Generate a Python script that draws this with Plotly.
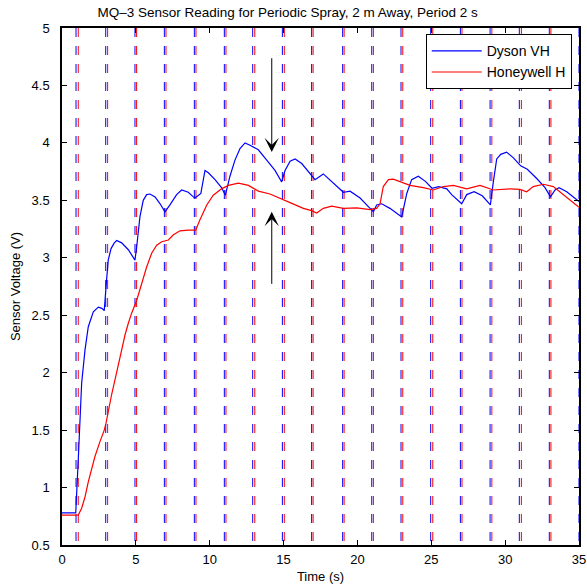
import plotly.graph_objects as go

# Dyson VH (blue) sensor trace
dyson_t = [0, 0.93, 1.1, 1.33, 1.56, 1.78, 2.12, 2.46, 2.7, 2.86, 3.02, 3.13, 3.32, 3.54, 3.7,
           4.04, 4.49, 4.94, 5.06, 5.28, 5.5, 5.73, 5.96, 6.3, 6.64, 6.97, 7.31, 7.76, 8.1, 8.55,
           8.89, 9.0, 9.4, 9.68, 9.91, 10.36, 10.8, 11.06, 11.37, 11.71, 12.05, 12.39, 12.73,
           13.29, 13.86, 14.42, 14.87, 15.1, 15.44, 15.78, 16.23, 16.79, 17.13, 17.69, 18.37,
           19.05, 19.5, 20.18, 21.08, 21.3, 21.64, 22.2, 23.0, 23.34, 23.67, 24.12, 24.6, 25.05,
           25.5, 26.05, 26.38, 27.06, 27.4, 27.9, 28.45, 29.0, 29.2, 29.43, 29.7, 30.1, 30.56,
           31.05, 31.5, 32.14, 32.7, 33.07, 33.38, 33.65, 34.17, 34.62, 35.0]
dyson_v = [0.78, 0.78, 1.24, 1.91, 2.2, 2.4, 2.53, 2.57, 2.56, 2.54, 2.81, 2.98, 3.08, 3.13, 3.15,
           3.13, 3.07, 2.98, 3.1, 3.36, 3.5, 3.55, 3.555, 3.53, 3.47, 3.40, 3.46, 3.55, 3.59, 3.57,
           3.53, 3.52, 3.56, 3.76, 3.74, 3.68, 3.61, 3.545, 3.71, 3.85, 3.95, 4.0, 3.98,
           3.94, 3.85, 3.76, 3.66, 3.76, 3.84, 3.86, 3.82, 3.73, 3.68, 3.73, 3.65,
           3.57, 3.58, 3.52, 3.40, 3.46, 3.47, 3.43, 3.355, 3.56, 3.68, 3.71, 3.665, 3.605,
           3.62, 3.6, 3.55, 3.47, 3.55, 3.575, 3.54, 3.46, 3.66, 3.86, 3.90, 3.92, 3.87,
           3.80, 3.77, 3.69, 3.61, 3.53, 3.59, 3.61, 3.575, 3.525, 3.49]

# Honeywell H (red) sensor trace
honey_t = [0, 1.1, 1.33, 1.56, 1.78, 2.01, 2.23, 2.57, 2.86, 2.98, 3.14, 3.36, 3.59, 3.81, 4.04,
           4.27, 4.49, 4.72, 5.06, 5.4, 5.73, 6.07, 6.41, 6.75, 7.2, 7.54, 7.99, 8.55, 9.05, 9.34,
           9.8, 10.24, 10.8, 11.26, 11.94, 12.62, 13.07, 13.29, 14.08, 14.76, 15.44, 16.34, 16.9,
           17.24, 17.69, 18.26, 19.05, 19.95, 20.85, 21.3, 21.53, 21.75, 22.1, 22.43, 23.0, 23.56,
           24.46, 25.14, 25.82, 26.5, 27.4, 28.3, 29.2, 30.33, 31.0, 31.46, 31.9, 32.59, 33.26,
           34.17, 34.6, 35.0]
honey_v = [0.76, 0.76, 0.82, 0.92, 1.05, 1.17, 1.27, 1.40, 1.50, 1.56, 1.67, 1.81, 1.94, 2.07, 2.20,
           2.33, 2.43, 2.52, 2.63, 2.78, 2.92, 3.04, 3.11, 3.14, 3.155, 3.2, 3.235, 3.24, 3.24, 3.33,
           3.46, 3.545, 3.6, 3.63, 3.65, 3.63, 3.60, 3.58, 3.555, 3.52, 3.48, 3.43, 3.41,
           3.39, 3.43, 3.45, 3.43, 3.435, 3.42, 3.43, 3.47, 3.62, 3.68, 3.685, 3.66, 3.63,
           3.61, 3.59, 3.62, 3.63, 3.60, 3.63, 3.59, 3.60, 3.595, 3.575, 3.62, 3.64, 3.62,
           3.53, 3.48, 3.44]

# spray event markers (dashed vertical lines)
dyson_spray = [0.95, 2.96, 4.94, 6.93, 8.96, 10.99, 12.91, 14.92, 16.9, 19.0, 20.97, 22.95,
               24.96, 26.97, 28.98, 30.96, 32.99, 35.0]
honey_spray = [1.1, 3.09, 5.05, 7.04, 9.07, 11.1, 13.05, 15.05, 17.0, 19.1, 21.08, 23.07,
               25.1, 27.08, 29.1, 31.1, 33.1]

y_lo, y_hi = 0.5, 5.0


def spray_xy(times):
    xs, ys = [], []
    for t in times:
        xs += [t, t, None]
        ys += [y_hi, y_lo, None]
    return xs, ys


fig = go.Figure()

for times, color in [(dyson_spray, 'blue'), (honey_spray, 'red')]:
    xs, ys = spray_xy(times)
    fig.add_trace(go.Scatter(x=xs, y=ys, mode='lines', showlegend=False, hoverinfo='skip',
                             line=dict(color=color, width=1, dash='dash')))

fig.add_trace(go.Scatter(x=dyson_t, y=dyson_v, mode='lines', name='Dyson VH',
                         line=dict(color='blue', width=1.2)))
fig.add_trace(go.Scatter(x=honey_t, y=honey_v, mode='lines', name='Honeywell H',
                         line=dict(color='red', width=1.2)))

# arrows pointing at the two curves
arrow = dict(xref='x', yref='y', axref='x', ayref='y', text='', showarrow=True,
             arrowhead=3, arrowsize=2.4, arrowwidth=1, arrowcolor='black')
fig.add_annotation(x=14.2, y=3.92, ax=14.2, ay=4.75, **arrow)
fig.add_annotation(x=14.2, y=3.40, ax=14.2, ay=2.76, **arrow)

axis_common = dict(showgrid=False, zeroline=False, showline=True, linecolor='black',
                   linewidth=1.5, mirror='allticks', ticks='inside', ticklen=5,
                   tickcolor='black', tickfont=dict(size=13, color='black'),
                   automargin=False)

fig.update_xaxes(range=[0, 35], dtick=5, ticklabelstandoff=2,
                 title=dict(text='Time (s)', standoff=6, font=dict(size=13, color='black')),
                 **axis_common)
fig.update_yaxes(range=[y_lo, y_hi], dtick=0.5, ticklabelstandoff=8,
                 title=dict(text='Sensor Voltage (V)', standoff=8,
                            font=dict(size=13, color='black')),
                 **axis_common)

fig.update_layout(
    width=587, height=586,
    margin={"l": 62, "r": 8, "t": 28, "b": 41},
    paper_bgcolor='white', plot_bgcolor='white',
    font=dict(family='Liberation Sans, Arial, sans-serif', size=13, color='black'),
    title=dict(text='MQ\u20133 Sensor Reading for Periodic Spray, 2 m Away, Period 2 s',
               x=0.49, xanchor='center', y=1 - 12 / 586, yanchor='middle',
               font=dict(size=13.5, color='black')),
    legend=dict(x=0.986, y=0.988, xanchor='right', yanchor='top', bgcolor='white',
                bordercolor='black', borderwidth=1, font=dict(size=14),
                itemwidth=50, tracegroupgap=0),
    showlegend=True,
)

# drop the page's default body margin so the figure sits at the window's corner
fig.write_html("out.html", config={"displayModeBar": False},
               post_script="document.body.style.margin='0';")
